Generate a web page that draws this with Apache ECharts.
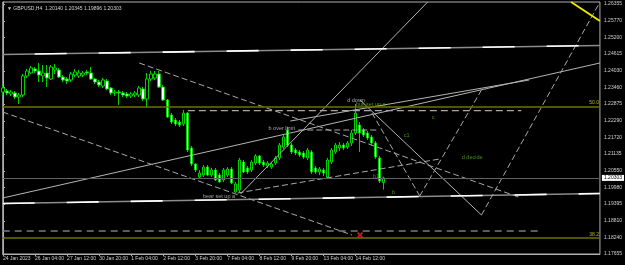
<!DOCTYPE html>
<html><head><meta charset="utf-8">
<script src="https://cdn.jsdelivr.net/npm/echarts@6.0.0/dist/echarts.min.js"></script>
<style>html,body{margin:0;padding:0;background:#000;}#c{width:625px;height:265px;}</style>
</head><body><div id="c"></div>
<script>
// ---------- data ----------
const symbolName = 'GBPUSD,H4';
const headerValues = ['1.20140', '1.20345', '1.19896', '1.20303'];
const timeLabels = ['24 Jan 2023', '26 Jan 04:00', '27 Jan 12:00', '30 Jan 20:00', '1 Feb 04:00', '2 Feb 12:00',
  '3 Feb 20:00', '7 Feb 04:00', '8 Feb 12:00', '9 Feb 20:00', '13 Feb 04:00', '14 Feb 12:00'];
const timeLabelBars = [0, 8, 16, 24, 32, 40, 48, 56, 64, 72, 80, 88];
const priceTicks = [1.26355, 1.25770, 1.25200, 1.24615, 1.24030, 1.23460, 1.22875, 1.22290, 1.21720,
  1.21135, 1.20550, 1.19980, 1.19395, 1.18810, 1.18240, 1.17655];
// candles: [open, close, low, high] per H4 bar
const candles = [
  [1.23292,1.23432,1.23188,1.23536],[1.23327,1.23258,1.23188,1.23397],[1.23223,1.23292,1.23153,1.23362],
  [1.23258,1.23118,1.23049,1.23327],[1.23118,1.23188,1.22875,1.23258],[1.23188,1.23849,1.23118,1.23919],
  [1.23849,1.24023,1.23780,1.24093],[1.23954,1.24128,1.23919,1.24197],[1.24093,1.24023,1.23954,1.24162],
  [1.24023,1.23884,1.23640,1.24302],[1.23849,1.23954,1.23640,1.24232],[1.23954,1.23780,1.23466,1.24232],
  [1.23745,1.24162,1.23710,1.24232],[1.24058,1.24128,1.23919,1.24267],[1.24058,1.23814,1.23780,1.24128],
  [1.23814,1.23710,1.23640,1.23884],[1.23745,1.23675,1.23571,1.23814],[1.23710,1.23919,1.23640,1.23988],
  [1.23884,1.23988,1.23814,1.24093],[1.23849,1.23954,1.23780,1.24058],[1.23884,1.23954,1.23814,1.24023],
  [1.23988,1.23954,1.23884,1.24058],[1.23954,1.23745,1.23710,1.24162],[1.23745,1.23640,1.23571,1.23780],
  [1.23640,1.23536,1.23466,1.23710],[1.23501,1.23710,1.23432,1.23780],[1.23675,1.23397,1.23362,1.23745],
  [1.23432,1.23258,1.23188,1.23466],[1.23258,1.23292,1.23153,1.23362],[1.23292,1.23258,1.22840,1.23362],
  [1.23258,1.23188,1.23118,1.23327],[1.23223,1.23153,1.23084,1.23292],[1.23153,1.23223,1.23084,1.23292],
  [1.23188,1.23258,1.23118,1.23327],[1.23188,1.23432,1.23118,1.23501],[1.23397,1.23049,1.22979,1.23466],
  [1.23049,1.23745,1.22736,1.23954],[1.23745,1.23919,1.23675,1.24023],[1.23780,1.23919,1.23710,1.24023],
  [1.23919,1.23466,1.23432,1.24023],[1.23466,1.23014,1.22979,1.23536],[1.23014,1.22422,1.22388,1.23049],
  [1.22492,1.22248,1.22178,1.22562],[1.22318,1.22178,1.22109,1.22388],[1.22248,1.22144,1.22074,1.22318],
  [1.22178,1.22562,1.22109,1.22666],[1.22562,1.21274,1.21204,1.22596],[1.21344,1.20787,1.20717,1.21413],
  [1.20787,1.20578,1.20508,1.20822],[1.20334,1.20474,1.20265,1.20578],[1.20404,1.20682,1.20334,1.20752],
  [1.20682,1.20404,1.20369,1.20752],[1.20404,1.20578,1.20334,1.20648],[1.20578,1.20230,1.20195,1.20648],
  [1.20404,1.20160,1.20126,1.20474],[1.20230,1.20578,1.20160,1.20648],[1.20404,1.20613,1.20334,1.20682],
  [1.20613,1.20126,1.20091,1.20682],[1.19812,1.20091,1.19778,1.20160],[1.19882,1.20926,1.19812,1.20996],
  [1.20856,1.20508,1.20474,1.20926],[1.20648,1.20508,1.20439,1.20717],[1.20578,1.20856,1.20508,1.20926],
  [1.20822,1.21066,1.20752,1.21135],[1.21066,1.20822,1.20752,1.21100],[1.20856,1.20752,1.20682,1.20926],
  [1.20717,1.20822,1.20648,1.20891],[1.20682,1.20787,1.20613,1.20856],[1.20822,1.20996,1.20752,1.21066],
  [1.20996,1.21448,1.20926,1.21518],[1.21378,1.21726,1.21309,1.21831],[1.21970,1.21448,1.21378,1.22074],
  [1.21448,1.21204,1.21135,1.21518],[1.21274,1.21170,1.21100,1.21344],[1.21204,1.21100,1.21030,1.21274],
  [1.21170,1.21030,1.20961,1.21239],[1.20996,1.21274,1.20926,1.21344],[1.21204,1.20508,1.20439,1.21274],
  [1.20648,1.20508,1.20439,1.20717],[1.20508,1.20613,1.20404,1.20682],[1.20578,1.20474,1.20369,1.20648],
  [1.20334,1.20926,1.20300,1.20996],[1.20856,1.21274,1.20787,1.21344],[1.21204,1.21448,1.21135,1.21518],
  [1.21344,1.21448,1.21239,1.21552],[1.21448,1.21344,1.21274,1.21518],[1.21378,1.21518,1.21309,1.21587],
  [1.21518,1.21866,1.21413,1.21970],[1.21866,1.22562,1.21796,1.22875],[1.22144,1.21866,1.21204,1.22248],
  [1.21970,1.21796,1.21726,1.22040],[1.21866,1.21692,1.21622,1.21935],[1.21726,1.21518,1.21448,1.21796],
  [1.21518,1.21030,1.20961,1.21587],[1.20996,1.20195,1.20126,1.21066],[1.20140,1.20303,1.19896,1.20345]
];
const bidPrice = 1.20303;
const fibPrices = [1.22788, 1.18222];
const fibNames = ['50.0', '38.2'];
const xLeft = -0.07, xRight = 149.0;
const yBottom = 1.17655, yTop = 1.264245;
// drawn objects: endpoints [bar, price]
const topSegLine = [[xLeft, 1.24597], [xRight, 1.24911]];
const botSegLine = [[xLeft, 1.19412], [xRight, 1.19760]];
const solidLines = [
  [[xLeft, 1.19604], [xRight, 1.24302]],
  [[71.73, 1.22283], [131.35, 1.23710]],
  [[59.3, 1.19743], [106.0, 1.26424]],
  [[89.12, 1.23014], [119.43, 1.19012]]
];
const dashedLines = [
  [[34.0, 1.24302], [129.37, 1.19604]],
  [[xLeft, 1.22596], [87.13, 1.18316]],
  [[58.56, 1.19778], [109.0, 1.20961]],
  [[73.71, 1.21970], [93.34, 1.21970]],
  [[119.43, 1.19012], [149.0, 1.26424]],
  [[104.02, 1.19673], [119.43, 1.23362]],
  [[92.1, 1.22562], [104.02, 1.19673]]
];
const levelDash = [[46.14, 1.22642], [129.37, 1.22642]];
const lowDash = [[xLeft, 1.18455], [134.58, 1.18455]];
const yellowLine = [[141.8, 1.26424], [149.0, 1.25763]];
const redMark = [89.12, 1.18316];
const greyNotes = [['d down', 85.9, 1.23014], ['b over limit', 66.26, 1.22040], ['bear set up a', 49.9, 1.19649]];
const greenNotes = [['bull set up a', 88.1, 1.22875], ['c1', 100.05, 1.21796], ['c', 107.0, 1.22422],
  ['d decide', 114.5, 1.21030], ['b1', 92.35, 1.20369], ['b', 97.07, 1.19812]];

// ---------- chart ----------
const FONT = 'Liberation Sans';
const chart = echarts.init(document.getElementById('c'), null, {renderer: 'canvas'});
const series = [];
series.push({
  type: 'candlestick', name: 'price',
  data: candles.map((c, i) => [i, c[0], c[1], c[2], c[3]]),
  encode: {x: 0, y: [1, 2, 3, 4]},
  barWidth: 3,
  itemStyle: {color: '#000000', color0: '#ffffff', borderColor: '#00d000', borderColor0: '#00d000', borderWidth: 1},
  z: 2,
  markLine: {
    silent: true, symbol: 'none', animation: false, precision: 5,
    lineStyle: {color: '#5f6368', width: 1, type: 'solid'},
    label: {show: true, position: 'end', distance: 2, formatter: () => headerValues[3],
      backgroundColor: '#ffffff', color: '#000000', fontSize: 5, fontFamily: FONT, padding: [1, 2, 0, 2]},
    data: [{yAxis: bidPrice}]
  }
});
// fibo levels
series.push({
  type: 'line', data: [], z: 1,
  markLine: {
    silent: true, symbol: 'none', animation: false, precision: 5,
    lineStyle: {color: '#6f6f00', width: 1.5, type: 'solid'},
    label: {show: true, position: 'insideEndTop', distance: 1, color: '#b8b820', fontSize: 5, fontFamily: FONT,
      formatter: p => fibNames[p.dataIndex]},
    data: fibPrices.map(v => ({yAxis: v}))
  }
});
function addLine(pts, style, z) {
  series.push({type: 'line', data: pts, symbol: 'none', silent: true, z: z || 3,
    lineStyle: style, clip: true});
}
addLine(topSegLine, {color: '#8c8c8c', width: 1.6});
addLine(topSegLine, {color: '#ffffff', width: 1.6, type: [32, 32], dashOffset: 32}, 4);
addLine(botSegLine, {color: '#8c8c8c', width: 1.6});
addLine(botSegLine, {color: '#ffffff', width: 1.6, type: [32, 32], dashOffset: 0}, 4);
solidLines.forEach(l => addLine(l, {color: '#b4b4b4', width: 1}));
dashedLines.forEach(l => addLine(l, {color: '#a8a8a8', width: 1, type: [6, 3]}));
addLine(levelDash, {color: '#a8a8a8', width: 1.2, type: [7, 4]});
addLine(lowDash, {color: '#7a7a7a', width: 1.5, type: [7, 5]});
addLine(yellowLine, {color: '#e8e800', width: 2});
series.push({type: 'scatter', data: [redMark], symbol: 'path://M0,2L2,0L5,3L8,0L10,2L7,5L10,8L8,10L5,7L2,10L0,8L3,5Z',
  symbolSize: 6, itemStyle: {color: '#ff2020'}, z: 5, silent: true});
function addNotes(notes, color) {
  series.push({type: 'scatter', data: notes.map(n => [n[1], n[2], n[0]]), symbolSize: 0.1,
    itemStyle: {color: 'rgba(0,0,0,0)'}, silent: true, z: 6,
    label: {show: true, position: 'right', distance: 0, color: color, fontSize: 5.5, fontFamily: FONT,
      formatter: p => p.data[2]}});
}
addNotes(greyNotes, '#c8c8c8');
addNotes(greenNotes, '#5fb321');

chart.setOption({
  animation: false,
  backgroundColor: '#000000',
  title: {text: '\u25BC ' + symbolName + '  ' + headerValues.join(' '), left: 2, top: 1,
    textStyle: {color: '#d0d0d0', fontSize: 5, fontWeight: 'normal', fontFamily: FONT}},
  grid: {left: 1, right: 24, top: 2, bottom: 11, show: true, borderColor: '#b0b0b0', borderWidth: 1,
    backgroundColor: '#000000', containLabel: false},
  xAxis: {
    type: 'value', min: xLeft, max: xRight, position: 'bottom',
    splitLine: {show: false},
    axisLine: {show: true, lineStyle: {color: '#b0b0b0'}},
    axisTick: {show: true, customValues: timeLabelBars, length: 2, lineStyle: {color: '#b0b0b0'}},
    axisLabel: {customValues: timeLabelBars, align: 'left', margin: 2, color: '#d0d0d0', fontSize: 5,
      fontFamily: FONT, formatter: v => timeLabels[Math.round(v / 8)]}
  },
  yAxis: {
    type: 'value', min: yBottom, max: yTop, position: 'right', scale: true,
    splitLine: {show: false},
    axisLine: {show: true, lineStyle: {color: '#b0b0b0'}},
    axisTick: {show: true, customValues: priceTicks, length: 2, lineStyle: {color: '#b0b0b0'}},
    axisLabel: {customValues: priceTicks, margin: 4, color: '#d0d0d0', fontSize: 5, fontFamily: FONT,
      formatter: v => v.toFixed(5)}
  },
  series: series
});
</script></body></html>
